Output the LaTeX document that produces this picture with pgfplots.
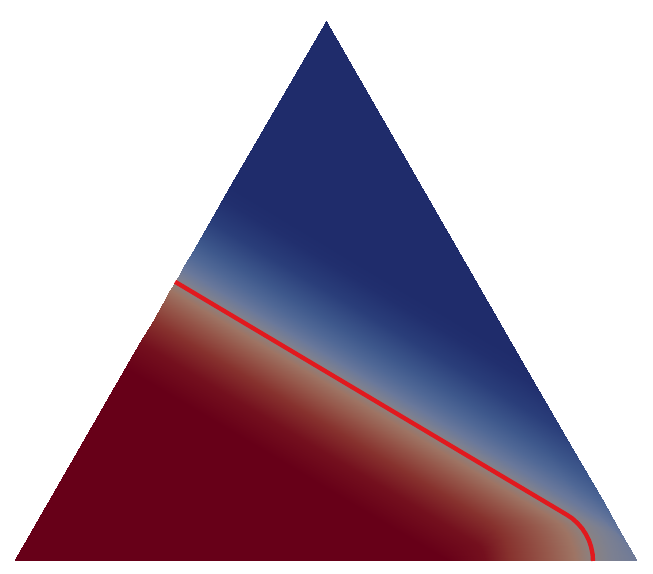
\documentclass[border=0pt]{standalone}
\usepackage{pgfplots}
\pgfplotsset{compat=1.18}
\definecolor{contour}{RGB}{225,25,30}
\begin{document}
\begin{tikzpicture}
\begin{axis}[
  view={0}{90},
  hide axis,
  scale only axis,
  width=10cm, height=8.790cm,
  xmin=0, xmax=653, ymin=0, ymax=574, zmin=-1, zmax=1,
  enlargelimits=false,
  y dir=reverse,
  colormap={phase}{
    rgb255(0pt)=(103,0,24)
    rgb255(30pt)=(116,16,30)
    rgb255(55pt)=(135,50,46)
    rgb255(75pt)=(150,88,75)
    rgb255(90pt)=(158,116,100)
    rgb255(100pt)=(138,130,130)
    rgb255(106pt)=(124,128,145)
    rgb255(115pt)=(105,120,155)
    rgb255(130pt)=(80,104,150)
    rgb255(145pt)=(62,88,140)
    rgb255(170pt)=(42,62,122)
    rgb255(195pt)=(33,47,110)
    rgb255(210pt)=(31,44,107)
  },
  point meta min=-100, point meta max=110,
]
% rows are level lines of the field (s = offset from the interface, px)
\addplot3[surf, shader=interp, point meta=explicit] table[x=x, y=y, z=z, meta=s] {
x y z s
14 561 0 -100
14 561 0 -100
14 561 0 -100
14 561 0 -100
14 561 0 -100
14 561 0 -100
14 561 0 -100
14 561 0 -100
14 561 0 -100

125.1 368.4 0 -100
198.8 412.2 0 -100
272.6 456.1 0 -100
346.3 500.0 0 -100
420.0 543.8 0 -100
430.0 549.8 0 -100
437.0 553.9 0 -100
443.0 557.5 0 -100
448.9 561.0 0 -100

140.1 342.4 0 -70
223.5 392.0 0 -70
306.8 441.6 0 -70
390.2 491.2 0 -70
473.5 540.8 0 -70
478.3 544.5 0 -70
481.9 549.4 0 -70
484.2 555.0 0 -70
485.0 561.0 0 -70

152.6 320.7 0 -45
236.0 370.4 0 -45
319.4 419.9 0 -45
402.8 469.6 0 -45
486.2 519.3 0 -45
496.1 526.9 0 -45
503.6 536.9 0 -45
508.4 548.6 0 -45
510.0 561.0 0 -45

162.6 303.4 0 -25
252.9 357.1 0 -25
343.2 410.9 0 -25
433.4 464.5 0 -25
523.7 518.3 0 -25
533.7 526.2 0 -25
541.5 536.4 0 -25
546.4 548.3 0 -25
548.0 561.0 0 -25

170.1 290.4 0 -10
265.0 346.9 0 -10
359.8 403.3 0 -10
454.7 459.7 0 -10
549.5 516.2 0 -10
560.0 524.4 0 -10
568.2 535.2 0 -10
573.3 547.7 0 -10
575.0 561.0 0 -10

175.1 281.8 0 0
273.0 340.0 0 0
370.9 398.3 0 0
468.7 456.4 0 0
566.6 514.7 0 0
577.5 523.2 0 0
585.9 534.3 0 0
591.2 547.3 0 0
593.0 561.0 0 0

178.1 276.6 0 6
280.9 337.7 0 6
383.7 398.9 0 6
486.6 460.1 0 6
589.4 521.2 0 6
598.7 528.5 0 6
605.9 538.1 0 6
610.5 549.2 0 6
612.0 561.0 0 6

181.1 271.4 0 12
284.6 332.9 0 12
388.1 394.5 0 12
491.6 456.1 0 12
595.0 517.6 0 12
607.6 526.2 0 12
618.9 536.4 0 12
628.9 547.9 0 12
637.5 561.0 0 12

185.1 264.4 0 20
281.3 321.7 0 20
377.5 378.9 0 20
473.8 436.2 0 20
570.0 493.5 0 20
583.5 501.9 0 20
596.1 510.4 0 20
607.8 519.1 0 20
618.5 528.0 0 20

192.6 251.4 0 35
279.5 303.2 0 35
366.3 354.8 0 35
453.2 406.5 0 35
540.0 458.2 0 35
557.0 468.5 0 35
572.9 478.8 0 35
587.9 488.9 0 35
601.7 499.0 0 35

205.1 229.8 0 60
278.8 273.6 0 60
352.5 317.5 0 60
426.2 361.3 0 60
500.0 405.3 0 60
518.1 416.0 0 60
536.3 426.8 0 60
554.4 437.6 0 60
572.5 448.4 0 60

230.1 186.5 0 110
285.1 219.2 0 110
340.1 252.0 0 110
395.0 284.6 0 110
450.0 317.3 0 110
467.9 328.0 0 110
485.7 338.6 0 110
503.6 349.2 0 110
521.4 359.8 0 110

325.7 20.7 0 110
325.7 20.7 0 110
325.7 20.7 0 110
325.7 20.7 0 110
325.7 20.7 0 110
325.7 20.7 0 110
325.7 20.7 0 110
325.7 20.7 0 110
325.7 20.7 0 110
};
% the 0.5 contour
\addplot3[contour, line width=1.9pt, line join=round] coordinates {
(175.1,281.8,0) (566.6,514.7,0) (572.3,518.5,0) (577.5,523.2,0)
(582.2,528.6,0) (585.9,534.3,0) (589.1,540.8,0) (591.2,547.3,0)
(592.6,554.4,0) (593.0,561.0,0)
};
\path (rel axis cs:0,0,0) rectangle (rel axis cs:1,1,0);
\end{axis}
\end{tikzpicture}
\end{document}
